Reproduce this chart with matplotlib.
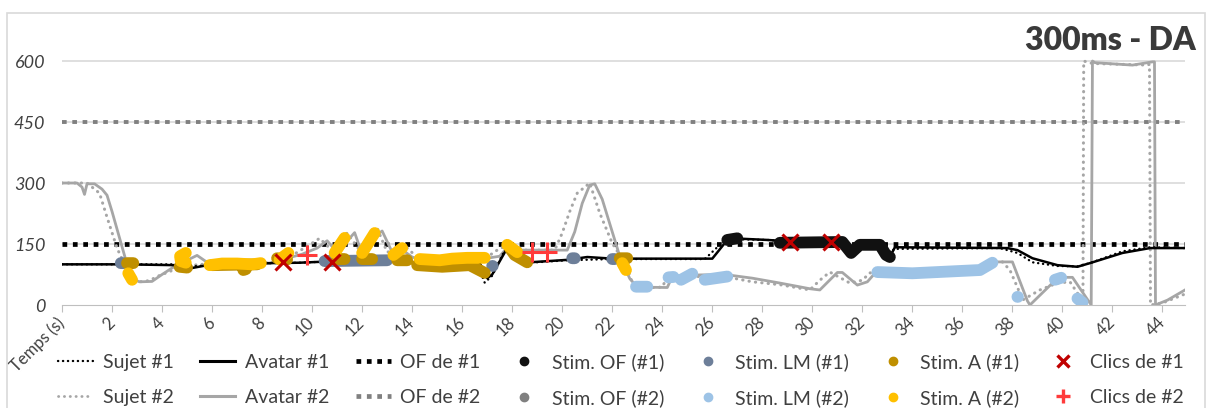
import numpy as np
import matplotlib
matplotlib.use("Agg")
import matplotlib.pyplot as plt
from matplotlib.lines import Line2D
from matplotlib.patches import Rectangle

nan = np.nan

# --- subject / avatar curves (time in s, value) ---
sujet1_x = [0, 2.5, 4.5, 5.2, 6.0, 8.3, 9.5, 11.0, 13.0, 14.0, 15.2, 16.6, 16.9, 17.2, 17.7, 18.1,
            18.7, 20.2, 22.0, 25.7, 26.3, 26.8, 28.2, 29.4, 31.2, 31.6, 32.0, 32.6, 33.0, 33.3, 37.5,
            38.2, 38.8, 39.8, 40.6, 41.1, 42.4, 43.5, 44.9]
sujet1_y = [100, 100, 100, 95, 98, 103, 104, 108, 108, 104, 96, 103, 55, 72, 135, 122,
            104, 110, 113, 113, 148, 162, 160, 155, 155, 135, 145, 148, 125, 138, 140,
            128, 105, 96, 95, 103, 132, 142, 140]

avatar1_x = [0, 2.5, 4.5, 5.2, 6.0, 8.3, 9.5, 11.0, 13.0, 13.9, 14.3, 15.2, 15.5, 16.7, 17.0, 17.2,
             17.8, 18.2, 18.7, 20.2, 21.0, 22.0, 26.0, 26.6, 26.8, 28.2, 29.4, 31.2, 31.5, 31.9,
             32.6, 32.9, 33.1, 33.3, 37.8, 38.2, 38.8, 39.8, 40.6, 41.1, 42.4, 43.5, 44.9]
avatar1_y = [100, 100, 98, 91, 100, 103, 104, 108, 108, 106, 103, 94, 100, 103, 66, 75,
             140, 118, 105, 111, 118, 114, 114, 160, 164, 160, 155, 155, 130, 148,
             148, 123, 118, 142, 140, 135, 115, 98, 94, 103, 128, 140, 140]

sujet2_x = [0, 1.0, 1.1, 1.5, 1.8, 2.2, 2.5, 2.85, 3.1, 3.5, 3.8, 4.45, 5.0, 5.5, 6.5, 7.5, 8.4, 9.1,
            10.0, 10.3, 10.7, 11.0, 11.4, 11.9, 12.6, 13.0, 13.8, 14.3, 15.5, 16.5, 17.0, 17.4,
            17.9, 18.5, 19.7, 20.0, 20.3, 20.6, 21.1, 21.5, 22.0, 22.6, 22.8, 23.2, 24.0, 24.2,
            25.0, 26.5, 27.6, 28.7, 29.9, 30.3, 30.7, 31.5, 32.0, 32.3, 33.5, 35.0, 36.7, 37.2,
            37.6, 37.9, 38.3, 38.4, 39.1, 39.8, 40.3, 40.7, 40.82, 40.85, 41.2, 43.4, 43.48,
            43.52, 44.0, 44.9]
sujet2_y = [300, 300, 295, 275, 216, 140, 100, 70, 57, 60, 70, 86, 95, 100, 100, 100, 105, 118,
            152, 164, 140, 150, 177, 135, 189, 130, 140, 112, 110, 112, 118, 135,
            150, 135, 135, 177, 230, 275, 300, 226, 152, 93, 54, 42, 44, 69,
            70, 70, 57, 50, 37, 61, 81, 54, 61, 79, 80, 82, 86, 106,
            106, 86, 29, 12, 37, 54, 57, 20, 2, 600, 594, 590, 592,
            0, 5, 27]

avatar2_x = [0, 0.6, 0.8, 0.9, 1.0, 1.3, 1.6, 1.8, 2.0, 2.3, 2.6, 2.9, 3.1, 3.6, 4.0, 4.5, 5.0, 5.4,
             5.8, 6.5, 7.5, 8.3, 9.0, 9.6, 10.2, 10.6, 11.0, 11.7, 12.0, 12.3, 12.8, 13.2, 13.5,
             14.0, 14.4, 15.5, 16.5, 17.0, 17.5, 17.9, 18.3, 19.0, 20.2, 20.5, 20.8, 21.1, 21.3,
             21.6, 22.0, 22.3, 22.7, 23.0, 24.2, 24.4, 24.8, 25.5, 26.5, 27.6, 28.7, 29.9, 30.3,
             31.0, 31.2, 31.8, 32.2, 32.5, 33.5, 35.0, 36.7, 37.2, 38.0, 38.6, 38.7, 39.6, 40.0,
             40.4, 41.15, 41.2, 41.3, 42.8, 43.6, 43.68, 43.72, 44.2, 44.9]
avatar2_y = [300, 300, 290, 272, 298, 298, 285, 270, 230, 165, 100, 62, 57, 58, 75, 95, 110, 122,
             105, 100, 100, 102, 115, 125, 140, 158, 130, 178, 125, 160, 182, 130, 140,
             118, 110, 110, 112, 115, 120, 148, 135, 135, 135, 180, 250, 295, 298,
             260, 180, 120, 65, 44, 43, 70, 72, 74, 75, 66, 54, 40, 37,
             80, 80, 49, 57, 78, 80, 82, 86, 106, 106, 10, 0, 54, 68,
             68, 0, 600, 596, 590, 598, 598, 0, 12, 37]

of1_level = 150
of2_level = 450

# --- stimulus clusters (nan separates clusters) ---
stim_of1_x = [26.6, 27.0, nan, 28.7, 31.2, 31.55, 31.9, 32.7, 32.95, 33.1]
stim_of1_y = [160, 164, nan, 153, 155, 128, 148, 148, 123, 118]

stim_lm1_x = [2.35, 2.45, nan, 10.5, 13.0, nan, 17.2, 17.22, nan, 20.4, 20.5, nan, 22.0, 22.1]
stim_lm1_y = [103, 103, nan, 108, 110, nan, 96, 96, nan, 115, 115, nan, 113, 113]

stim_a1_x = [2.6, 2.85, nan, 4.7, 5.0, nan, 6.0, 7.8, nan, 7.25, 7.35, nan, 8.6, 9.0, nan,
             11.0, 11.3, nan, 12.0, 12.4, nan, 13.4, 13.8, nan, 14.2, 15.2, 16.3, 16.9, nan,
             17.9, 18.1, 18.6, nan, 22.3, 22.6]
stim_a1_y = [103, 103, nan, 94, 92, nan, 98, 100, nan, 86, 88, nan, 115, 112, nan,
             113, 113, nan, 113, 113, nan, 110, 110, nan, 98, 94, 98, 79, nan,
             140, 123, 105, nan, 115, 115]

stim_a2_x = [2.65, 2.8, nan, 4.95, 4.72, 4.75, 4.95, nan, 5.9, 6.4, 7.0, 7.6, 7.95, nan,
             8.7, 9.05, nan, 10.9, 11.3, nan, 12.0, 12.5, nan, 13.25, 13.6, nan,
             14.3, 15.1, 15.6, 16.2, 16.9, nan, 17.8, 18.2, nan, 22.4, 22.55]
stim_a2_y = [78, 62, nan, 128, 120, 108, 104, nan, 98, 102, 102, 100, 103, nan,
             112, 128, nan, 128, 165, nan, 128, 177, nan, 123, 140, nan,
             113, 110, 114, 116, 116, nan, 148, 130, nan, 103, 86]

stim_lm2_x = [22.95, 23.4, nan, 24.25, 24.45, nan, 24.75, 25.2, nan, 25.7, 26.6, nan,
              32.6, 34.0, 36.7, 37.2, nan, 38.2, 38.22, nan, 39.7, 39.95, nan, 40.6, 40.8]
stim_lm2_y = [45, 45, nan, 68, 69, nan, 62, 77, nan, 62, 70, nan,
              81, 78, 86, 104, nan, 20, 20, nan, 62, 67, nan, 16, 6]

stim_of2_x = []
stim_of2_y = []

clics1_x = [8.85, 10.8, 29.1, 30.75]
clics1_y = [105, 106, 155, 155]
clics2_x = [9.8, 18.8, 19.4]
clics2_y = [123, 130, 130]

xtick_vals = list(range(0, 45, 2))
xtick_labels = ["Temps (s)"] + [str(v) for v in xtick_vals[1:]]
ytick_vals = [0, 150, 300, 450, 600]

title = "300ms - DA"

# ---------------------------------------------------------------
plt.rcParams['font.family'] = ['Lato', 'DejaVu Sans']
txt = '#404040'
grey_line = '#a6a6a6'

fig = plt.figure(figsize=(12.1, 4.08), dpi=100)
ax = fig.add_axes([62 / 1210, 103 / 408, 1123 / 1210, 246 / 408])

for yv in ytick_vals[1:]:
    ax.axhline(yv, color='#d9d9d9', lw=1.2, zorder=0)

ax.axhline(of1_level, color='black', lw=3.4, ls=(0, (1, 1.2)), zorder=2)
ax.axhline(of2_level, color='#808080', lw=2.8, ls=(0, (1.2, 1.45)), zorder=2)

ax.plot(avatar2_x, avatar2_y, color=grey_line, lw=2.0, zorder=3)
ax.plot(sujet2_x, sujet2_y, color=grey_line, lw=2.2, ls=(0, (0.1, 2.0)),
        dash_capstyle='round', zorder=3)
ax.plot(avatar1_x, avatar1_y, color='black', lw=1.8, zorder=3)
ax.plot(sujet1_x, sujet1_y, color='black', lw=1.7, ls=(0, (0.1, 2.0)),
        dash_capstyle='round', zorder=3)

stim = [
    (stim_of1_x, stim_of1_y, '#111111'),
    (stim_lm1_x, stim_lm1_y, '#6d7f99'),
    (stim_a1_x, stim_a1_y, '#bf8f00'),
    (stim_lm2_x, stim_lm2_y, '#9dc3e6'),
    (stim_a2_x, stim_a2_y, '#ffc000'),
]
for sx, sy, c in stim:
    ax.plot(sx, sy, color=c, lw=8.5, solid_capstyle='round',
            solid_joinstyle='round', zorder=4)

ax.plot(clics1_x, clics1_y, ls='none', marker='x', ms=12, mew=2.2,
        color='#c00000', zorder=6)
ax.plot(clics2_x, clics2_y, ls='none', marker='+', ms=15, mew=2.2,
        color='#ff3b3b', zorder=6)

ax.set_xlim(0, 44.9)
ax.set_ylim(0, 605)
ax.set_xticks(xtick_vals)
ax.set_xticklabels(xtick_labels, rotation=45, ha='right', va='center',
                   rotation_mode='anchor', color=txt, fontsize=12)
ax.set_yticks(ytick_vals)
ax.set_yticklabels([str(v) for v in ytick_vals], style='italic', color=txt,
                   fontsize=13)
ax.tick_params(axis='y', length=0, pad=12)
ax.tick_params(axis='x', length=5, color='#bfbfbf', pad=6)
for s in ['top', 'right', 'left']:
    ax.spines[s].set_visible(False)
ax.spines['bottom'].set_color('#bfbfbf')
ax.spines['bottom'].set_zorder(1)

fig.text(1196 / 1210, 1 - 40 / 408, title, ha='right', va='center',
         fontsize=23, fontweight='heavy', color='#3a3a3a')

handles = [
    Line2D([], [], color='black', lw=1.7, ls=(0, (0.1, 2.0)), dash_capstyle='round'),
    Line2D([], [], color=grey_line, lw=2.0, ls=(0, (0.1, 2.0)), dash_capstyle='round'),
    Line2D([], [], color='black', lw=2.2),
    Line2D([], [], color=grey_line, lw=2.2),
    Line2D([], [], color='black', lw=3.4, ls=(0, (1, 1.2))),
    Line2D([], [], color='#808080', lw=3.4, ls=(0, (1, 1.2))),
    Line2D([], [], ls='none', marker='o', ms=6, color='#111111'),
    Line2D([], [], ls='none', marker='o', ms=6, color='#808080'),
    Line2D([], [], ls='none', marker='o', ms=6, color='#6d7f99'),
    Line2D([], [], ls='none', marker='o', ms=6, color='#9dc3e6'),
    Line2D([], [], ls='none', marker='o', ms=6, color='#bf8f00'),
    Line2D([], [], ls='none', marker='o', ms=6, color='#ffc000'),
    Line2D([], [], ls='none', marker='x', ms=9, mew=2.4, color='#c00000'),
    Line2D([], [], ls='none', marker='+', ms=10, mew=2.4, color='#ff3b3b'),
]
labels = ["Sujet #1", "Sujet #2", "Avatar #1", "Avatar #2", "OF de #1", "OF de #2",
          "Stim. OF (#1)", "Stim. OF (#2)", "Stim. LM (#1)", "Stim. LM (#2)",
          "Stim. A (#1)", "Stim. A (#2)", "Clics de #1", "Clics de #2"]
leg = fig.legend(handles, labels, ncol=7, loc='center',
                 bbox_to_anchor=(621 / 1210, 1 - 380 / 408), frameon=False,
                 fontsize=14, handlelength=1.8, handletextpad=0.5,
                 columnspacing=1.35, labelspacing=0.95, borderaxespad=0)
for t in leg.get_texts():
    t.set_color(txt)

fig.patches.append(Rectangle((7 / 1210, -0.01), 1198 / 1210, 1 - 13 / 408 + 0.01,
                             transform=fig.transFigure, fill=False,
                             edgecolor='#d9d9d9', lw=1.2))

fig.savefig('out.png', dpi=100)
